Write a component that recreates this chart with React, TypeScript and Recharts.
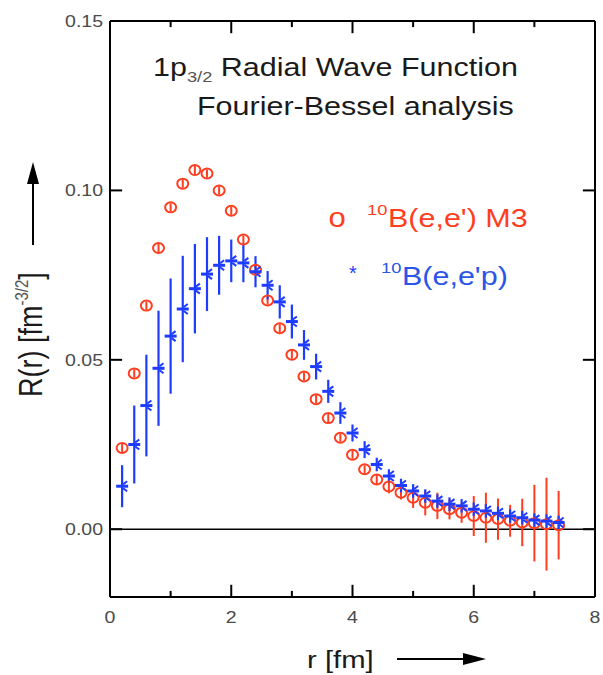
import { ErrorBar, ReferenceLine, Scatter, ScatterChart, XAxis, YAxis } from "recharts";

// r grid (fm) shared by both data sets
const rValues = [
  0.2, 0.4, 0.6, 0.8, 1.0, 1.2, 1.4, 1.6, 1.8, 2.0, 2.2, 2.4, 2.6, 2.8, 3.0, 3.2, 3.4, 3.6, 3.8,
  4.0, 4.2, 4.4, 4.6, 4.8, 5.0, 5.2, 5.4, 5.6, 5.8, 6.0, 6.2, 6.4, 6.6, 6.8, 7.0, 7.2, 7.4,
];

// 10B(e,e') M3
const m3Values = [
  0.024, 0.046, 0.066, 0.083, 0.095, 0.102, 0.106, 0.105, 0.1, 0.094, 0.0855, 0.0766, 0.0675,
  0.0593, 0.0515, 0.0451, 0.0384, 0.0328, 0.027, 0.022, 0.0177, 0.0147, 0.0126, 0.0108, 0.0093,
  0.0078, 0.0069, 0.0059, 0.0049, 0.0039, 0.0034, 0.003, 0.0025, 0.002, 0.0018, 0.0015, 0.0012,
];
const m3Errors = [
  0.0012, 0.0012, 0.0012, 0.0012, 0.0012, 0.0012, 0.0012, 0.0012, 0.0012, 0.0012, 0.0012, 0.0012,
  0.0012, 0.0012, 0.0012, 0.0012, 0.0012, 0.0012, 0.0012, 0.0012, 0.0012, 0.0015, 0.002, 0.002,
  0.003, 0.0037, 0.0039, 0.003, 0.003, 0.0059, 0.0074, 0.0061, 0.0047, 0.007, 0.0113, 0.0137,
  0.0101,
];

// 10B(e,e'p)
const eepValues = [
  0.0127, 0.025, 0.0365, 0.0475, 0.057, 0.065, 0.071, 0.0753, 0.0779, 0.0792, 0.0786, 0.076,
  0.072, 0.0671, 0.0613, 0.0544, 0.048, 0.0407, 0.0343, 0.0284, 0.0235, 0.0191, 0.0157, 0.0129,
  0.0113, 0.0098, 0.0083, 0.0074, 0.0069, 0.0059, 0.0054, 0.0047, 0.0039, 0.0034, 0.0027, 0.0024,
  0.002,
];
const eepErrors = [
  0.0062, 0.0115, 0.015, 0.017, 0.017, 0.0157, 0.0132, 0.0109, 0.0087, 0.0063, 0.0057, 0.0046,
  0.0042, 0.0049, 0.005, 0.0044, 0.0038, 0.0034, 0.0032, 0.0025, 0.0025, 0.002, 0.002, 0.002,
  0.002, 0.002, 0.002, 0.002, 0.002, 0.002, 0.002, 0.002, 0.002, 0.002, 0.002, 0.002, 0.002,
];

const xLabelTicks = [0, 2, 4, 6, 8];
const xInnerTicks = [1, 2, 3, 4, 5, 6, 7];
const yTicks = [0, 0.05, 0.1, 0.15];

const X_DOMAIN = [0, 8];
const Y_DOMAIN = [-0.02, 0.15];

// inward tick lengths, in axis units (about 12px / 6px)
const TICK_Y_MAJOR = 0.0036;
const TICK_Y_MINOR = 0.0018;
const TICK_X = 0.2;

const RED = "#ff3d1f";
const BLUE = "#1d3cff";
const FONT = "'Liberation Sans', Arial, Helvetica, sans-serif";
const STRETCH = 1.22;
const frame = { stroke: "#000", strokeWidth: 2 };

const m3Data = rValues.map((r, i) => ({ r, R: m3Values[i], err: m3Errors[i] }));
const eepData = rValues.map((r, i) => ({ r, R: eepValues[i], err: eepErrors[i] }));

const xTickSegments = xInnerTicks.flatMap((v) => {
  const len = v % 2 === 0 ? TICK_Y_MAJOR : TICK_Y_MINOR;
  return [
    { key: `b${v}`, seg: [{ x: v, y: Y_DOMAIN[0] }, { x: v, y: Y_DOMAIN[0] + len }] },
    { key: `t${v}`, seg: [{ x: v, y: Y_DOMAIN[1] }, { x: v, y: Y_DOMAIN[1] - len }] },
  ];
});
const yTickSegments = yTicks.flatMap((v) => [
  { key: `l${v}`, seg: [{ x: X_DOMAIN[0], y: v }, { x: X_DOMAIN[0] + TICK_X, y: v }] },
  { key: `r${v}`, seg: [{ x: X_DOMAIN[1], y: v }, { x: X_DOMAIN[1] - TICK_X, y: v }] },
]);

const renderXLabel = ({ x, y, payload }: any) => (
  <text
    transform={`translate(${x},${y + 26}) scale(${STRETCH},1)`}
    textAnchor="middle"
    fontSize={16}
    fontFamily={FONT}
    fill="#4a4a4a"
  >
    {payload.value}
  </text>
);

const renderYLabel = ({ x, y, payload }: any) => (
  <text
    transform={`translate(${x - 7},${y + 6}) scale(${STRETCH},1)`}
    textAnchor="end"
    fontSize={16}
    fontFamily={FONT}
    fill="#4a4a4a"
  >
    {Number(payload.value).toFixed(2)}
  </text>
);

function RingMark({ cx, cy }: any) {
  return <ellipse cx={cx} cy={cy} rx={5.5} ry={5} fill="none" stroke={RED} strokeWidth={2} />;
}

function StarMark({ cx, cy }: any) {
  return (
    <g stroke={BLUE}>
      <line x1={cx - 6} y1={cy} x2={cx + 6} y2={cy} strokeWidth={3} />
      <line x1={cx + 1} y1={cy - 2} x2={cx + 5} y2={cy - 5} strokeWidth={2} />
      <line x1={cx + 1} y1={cy + 2} x2={cx + 5} y2={cy + 5} strokeWidth={2} />
    </g>
  );
}

function Annotations() {
  return (
    <svg
      width={603}
      height={675}
      style={{ position: "absolute", left: 0, top: 0, pointerEvents: "none" }}
      fontFamily={FONT}
    >
      <text transform={`translate(153,76) scale(${STRETCH},1)`} fontSize={25} fill="#1a1a1a">
        1p<tspan fontSize={15} dy={6} fill="#555">3/2</tspan>
        <tspan dy={-6}> Radial Wave Function</tspan>
      </text>
      <text transform={`translate(197,115) scale(${STRETCH},1)`} fontSize={25} fill="#1a1a1a">
        Fourier-Bessel analysis
      </text>

      <text transform="translate(337,227) scale(1.15,1)" textAnchor="middle" fontSize={27} fill={RED}>o</text>
      <text transform={`translate(367,215) scale(${STRETCH},1)`} fontSize={15} fill={RED}>10</text>
      <text transform={`translate(388,227) scale(${STRETCH},1)`} fontSize={25} fill={RED}>
        B(e,e') M3
      </text>
      <text x={353} y={280} textAnchor="middle" fontSize={20} fill={BLUE}>*</text>
      <text transform={`translate(381,273) scale(${STRETCH},1)`} fontSize={15} fill="#2a55e8">10</text>
      <text transform={`translate(402,285) scale(${STRETCH},1)`} fontSize={25} fill="#2a55e8">
        B(e,e'p)
      </text>

      <text transform="translate(42,397) rotate(-90) scale(1,1.25)" fontSize={27} fill="#1a1a1a">
        R(r) [fm<tspan fontSize={15} dy={-11} fill="#555">-3/2</tspan>
        <tspan dy={11}>]</tspan>
      </text>
      <line x1={33} y1={245} x2={33} y2={175} stroke="#000" strokeWidth={2} />
      <polygon points="33,162 27,184 39,184" fill="#000" />

      <text transform={`translate(307,668) scale(${STRETCH},1)`} fontSize={24} fill="#1a1a1a">
        r [fm]
      </text>
      <line x1={397} y1={659} x2={470} y2={659} stroke="#000" strokeWidth={2} />
      <polygon points="486,659 463,653 463,665" fill="#000" />
    </svg>
  );
}

export default function App() {
  return (
    <div style={{ position: "absolute", left: 0, top: 0, width: 603, height: 675, background: "#fff" }}>
      <Annotations />
      <ScatterChart width={603} height={675} margin={{ top: 0, right: 0, bottom: 0, left: 0 }}>
        <XAxis
          xAxisId="bottom"
          dataKey="r"
          type="number"
          domain={X_DOMAIN}
          ticks={xLabelTicks}
          height={78}
          tickSize={0}
          tickMargin={0}
          tickLine={false}
          tick={renderXLabel}
          axisLine={frame}
        />
        <XAxis
          xAxisId="top"
          orientation="top"
          dataKey="r"
          type="number"
          domain={X_DOMAIN}
          height={21}
          tickLine={false}
          tick={false}
          axisLine={frame}
        />
        <YAxis
          yAxisId="left"
          dataKey="R"
          type="number"
          domain={Y_DOMAIN}
          allowDataOverflow
          ticks={yTicks}
          width={110}
          tickSize={0}
          tickMargin={0}
          tickLine={false}
          tick={renderYLabel}
          axisLine={frame}
        />
        <YAxis
          yAxisId="right"
          orientation="right"
          dataKey="R"
          type="number"
          domain={Y_DOMAIN}
          allowDataOverflow
          width={8}
          tickLine={false}
          tick={false}
          axisLine={frame}
        />
        {[...xTickSegments, ...yTickSegments].map((t) => (
          <ReferenceLine
            key={t.key}
            xAxisId="bottom"
            yAxisId="left"
            segment={t.seg}
            ifOverflow="visible"
            stroke="#000"
            strokeWidth={2}
          />
        ))}
        <ReferenceLine xAxisId="bottom" yAxisId="left" y={0} stroke="#000" strokeWidth={1.5} />
        <Scatter xAxisId="bottom" yAxisId="left" data={m3Data} shape={<RingMark />} isAnimationActive={false}>
          <ErrorBar dataKey="err" direction="y" width={0} stroke={RED} strokeWidth={2} />
        </Scatter>
        <Scatter xAxisId="bottom" yAxisId="left" data={eepData} shape={<StarMark />} isAnimationActive={false}>
          <ErrorBar dataKey="err" direction="y" width={0} stroke={BLUE} strokeWidth={2.2} />
        </Scatter>
      </ScatterChart>
    </div>
  );
}
